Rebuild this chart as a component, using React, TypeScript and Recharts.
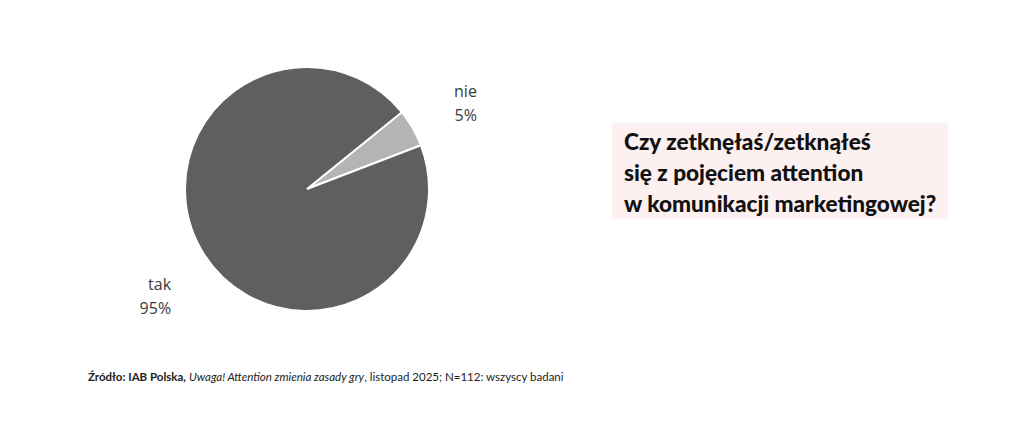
import { PieChart, Pie, Cell } from "recharts";

const answers = ["nie", "tak"];
const shares = [5, 95];
const sliceColors = ["#b4b4b4", "#5f5f5f"];

const data = answers.map((name, i) => ({ name, value: shares[i] }));

const RAD = Math.PI / 180;

// nudges so the labels sit where the original put them
const labelNudge = [
  { dx: 14, dy: 4 },
  { dx: 20, dy: 17 },
];

const renderLabel = (props: any) => {
  const { cx, cy, midAngle, outerRadius, index, name, value } = props;
  const r = outerRadius + 58;
  const x = cx + r * Math.cos(-midAngle * RAD) + labelNudge[index].dx;
  const y = cy + r * Math.sin(-midAngle * RAD) + labelNudge[index].dy;
  return (
    <text
      x={x}
      y={y}
      textAnchor="end"
      fill="#3a3a3a"
      fontFamily="'Open Sans', sans-serif"
      fontSize={16}
    >
      <tspan x={x} dy={-6}>
        {name}
      </tspan>
      <tspan x={x} dy={24}>
        {value}%
      </tspan>
    </text>
  );
};

export default function App() {
  return (
    <div style={{ position: "fixed", left: 0, top: 0, width: 1024, height: 422, background: "#fff" }}>
      <PieChart
        width={1024}
        height={422}
        margin={{ top: 0, right: 0, bottom: 0, left: 0 }}
        style={{ position: "absolute", left: 0, top: 0 }}
      >
        <Pie
          data={data}
          dataKey="value"
          nameKey="name"
          cx={307}
          cy={189}
          outerRadius={122}
          startAngle={39}
          endAngle={39 - 360}
          stroke="#fff"
          strokeWidth={2}
          label={renderLabel}
          labelLine={false}
          isAnimationActive={false}
        >
          {data.map((d, i) => (
            <Cell key={d.name} fill={sliceColors[i]} />
          ))}
        </Pie>
      </PieChart>
      <div
        style={{
          position: "absolute",
          left: 612,
          top: 123,
          width: 336,
          height: 96,
          background: "#fcf0f0",
          boxSizing: "border-box",
          padding: "3px 0 0 12px",
          fontFamily: "Lato, sans-serif",
          fontWeight: 900,
          fontSize: 22.6,
          lineHeight: "31px",
          color: "#111",
          whiteSpace: "nowrap",
        }}
      >
        Czy zetknęłaś/zetknąłeś
        <br />
        się z pojęciem attention
        <br />w komunikacji marketingowej?
      </div>
      <div
        style={{
          position: "absolute",
          left: 88,
          top: 370,
          fontFamily: "Lato, sans-serif",
          fontSize: 11.5,
          color: "#222",
          whiteSpace: "nowrap",
        }}
      >
        <b>Źródło: IAB Polska,</b> <i>Uwaga! Attention zmienia zasady gry</i>, listopad 2025; N=112: wszyscy
        badani
      </div>
    </div>
  );
}
